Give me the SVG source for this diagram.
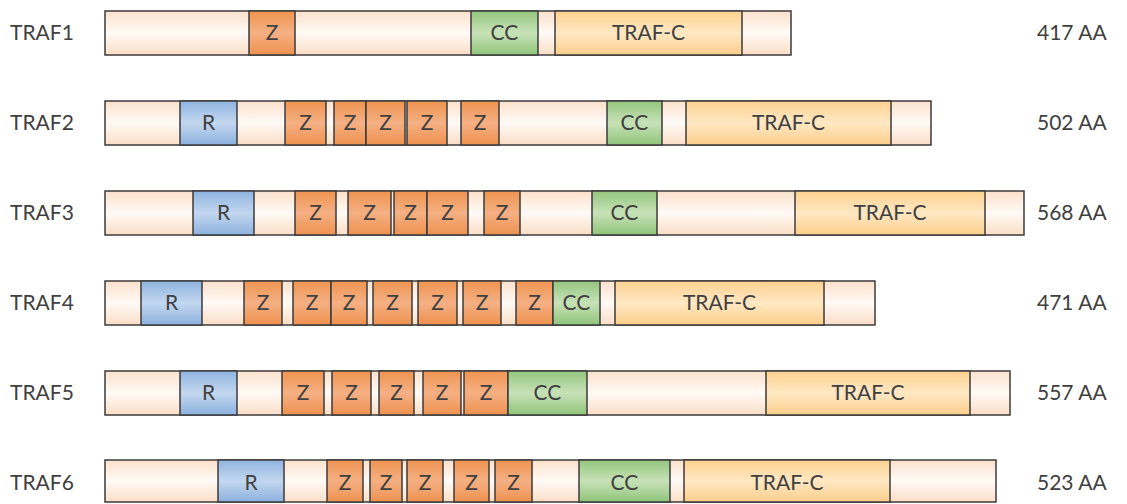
<svg xmlns="http://www.w3.org/2000/svg" width="1127" height="504" viewBox="0 0 1127 504">
  <defs>
    <linearGradient id="gBase" x1="0" y1="0" x2="0" y2="1">
      <stop offset="0" stop-color="#fce1cc"/>
      <stop offset="0.5" stop-color="#fffaf6"/>
      <stop offset="1" stop-color="#fbdec7"/>
    </linearGradient>
    <linearGradient id="gZinc" x1="0" y1="0" x2="0" y2="1">
      <stop offset="0" stop-color="#ef9450"/>
      <stop offset="0.5" stop-color="#f5b084"/>
      <stop offset="1" stop-color="#ee914e"/>
    </linearGradient>
    <linearGradient id="gRing" x1="0" y1="0" x2="0" y2="1">
      <stop offset="0" stop-color="#8fb4e0"/>
      <stop offset="0.5" stop-color="#c3d7ef"/>
      <stop offset="1" stop-color="#8cb1de"/>
    </linearGradient>
    <linearGradient id="gCoil" x1="0" y1="0" x2="0" y2="1">
      <stop offset="0" stop-color="#93c67d"/>
      <stop offset="0.5" stop-color="#c8e2b8"/>
      <stop offset="1" stop-color="#8fc479"/>
    </linearGradient>
    <linearGradient id="gTrafC" x1="0" y1="0" x2="0" y2="1">
      <stop offset="0" stop-color="#fdd18f"/>
      <stop offset="0.5" stop-color="#ffe8c4"/>
      <stop offset="1" stop-color="#fcce8a"/>
    </linearGradient>
  </defs>
  <style>
    .base, .z, .r, .cc, .tc { stroke: #3b3b3b; stroke-width: 1.5; }
    .base { fill: url(#gBase); }
    .z { fill: url(#gZinc); }
    .r { fill: url(#gRing); }
    .cc { fill: url(#gCoil); }
    .tc { fill: url(#gTrafC); }
    text { font-family: Lato, "Liberation Sans", sans-serif; font-size: 21px; fill: #404040; }
    .mid { text-anchor: middle; }
  </style>
  <rect width="1127" height="504" fill="#ffffff"/>

  <!-- TRAF1 -->
  <g id="traf1">
    <text x="10" y="40">TRAF1</text>
    <rect class="base" x="105" y="11" width="686" height="44"/>
    <rect class="z" x="249" y="11" width="46" height="44"/>
    <rect class="cc" x="471" y="11" width="67" height="44"/>
    <rect class="tc" x="555" y="11" width="187" height="44"/>
    <text class="mid" x="272" y="40">Z</text>
    <text class="mid" x="504.5" y="40">CC</text>
    <text class="mid" x="648.5" y="40">TRAF-C</text>
    <text x="1037" y="40">417 AA</text>
  </g>

  <!-- TRAF2 -->
  <g id="traf2">
    <text x="10" y="130">TRAF2</text>
    <rect class="base" x="105" y="101" width="826" height="44"/>
    <rect class="r" x="180" y="101" width="57" height="44"/>
    <rect class="z" x="285" y="101" width="41" height="44"/>
    <rect class="z" x="334" y="101" width="32" height="44"/>
    <rect class="z" x="366" y="101" width="39" height="44"/>
    <rect class="z" x="407" y="101" width="40" height="44"/>
    <rect class="z" x="461" y="101" width="38" height="44"/>
    <rect class="cc" x="607" y="101" width="55" height="44"/>
    <rect class="tc" x="686" y="101" width="205" height="44"/>
    <text class="mid" x="208.5" y="130">R</text>
    <text class="mid" x="305.5" y="130">Z</text>
    <text class="mid" x="350" y="130">Z</text>
    <text class="mid" x="385.5" y="130">Z</text>
    <text class="mid" x="427" y="130">Z</text>
    <text class="mid" x="480" y="130">Z</text>
    <text class="mid" x="634.5" y="130">CC</text>
    <text class="mid" x="788.5" y="130">TRAF-C</text>
    <text x="1037" y="130">502 AA</text>
  </g>

  <!-- TRAF3 -->
  <g id="traf3">
    <text x="10" y="220">TRAF3</text>
    <rect class="base" x="105" y="191" width="919" height="44"/>
    <rect class="r" x="193" y="191" width="61" height="44"/>
    <rect class="z" x="295" y="191" width="41" height="44"/>
    <rect class="z" x="348" y="191" width="43" height="44"/>
    <rect class="z" x="394" y="191" width="33" height="44"/>
    <rect class="z" x="427" y="191" width="41" height="44"/>
    <rect class="z" x="484" y="191" width="36" height="44"/>
    <rect class="cc" x="592" y="191" width="65" height="44"/>
    <rect class="tc" x="795" y="191" width="190" height="44"/>
    <text class="mid" x="223.5" y="220">R</text>
    <text class="mid" x="315.5" y="220">Z</text>
    <text class="mid" x="369.5" y="220">Z</text>
    <text class="mid" x="410.5" y="220">Z</text>
    <text class="mid" x="447.5" y="220">Z</text>
    <text class="mid" x="502" y="220">Z</text>
    <text class="mid" x="624.5" y="220">CC</text>
    <text class="mid" x="890" y="220">TRAF-C</text>
    <text x="1037" y="220">568 AA</text>
  </g>

  <!-- TRAF4 -->
  <g id="traf4">
    <text x="10" y="310">TRAF4</text>
    <rect class="base" x="105" y="281" width="770" height="44"/>
    <rect class="r" x="141" y="281" width="61" height="44"/>
    <rect class="z" x="244" y="281" width="38" height="44"/>
    <rect class="z" x="293" y="281" width="38" height="44"/>
    <rect class="z" x="331" y="281" width="36" height="44"/>
    <rect class="z" x="373" y="281" width="39" height="44"/>
    <rect class="z" x="418" y="281" width="39" height="44"/>
    <rect class="z" x="463" y="281" width="38" height="44"/>
    <rect class="z" x="516" y="281" width="37" height="44"/>
    <rect class="cc" x="553" y="281" width="47" height="44"/>
    <rect class="tc" x="615" y="281" width="209" height="44"/>
    <text class="mid" x="171.5" y="310">R</text>
    <text class="mid" x="263" y="310">Z</text>
    <text class="mid" x="312" y="310">Z</text>
    <text class="mid" x="349" y="310">Z</text>
    <text class="mid" x="392.5" y="310">Z</text>
    <text class="mid" x="437.5" y="310">Z</text>
    <text class="mid" x="482" y="310">Z</text>
    <text class="mid" x="534.5" y="310">Z</text>
    <text class="mid" x="576.5" y="310">CC</text>
    <text class="mid" x="719.5" y="310">TRAF-C</text>
    <text x="1037" y="310">471 AA</text>
  </g>

  <!-- TRAF5 -->
  <g id="traf5">
    <text x="10" y="400">TRAF5</text>
    <rect class="base" x="105" y="371" width="905" height="44"/>
    <rect class="r" x="180" y="371" width="57" height="44"/>
    <rect class="z" x="282" y="371" width="42" height="44"/>
    <rect class="z" x="332" y="371" width="39" height="44"/>
    <rect class="z" x="379" y="371" width="35" height="44"/>
    <rect class="z" x="423" y="371" width="38" height="44"/>
    <rect class="z" x="464" y="371" width="44" height="44"/>
    <rect class="cc" x="508" y="371" width="79" height="44"/>
    <rect class="tc" x="766" y="371" width="204" height="44"/>
    <text class="mid" x="208.5" y="400">R</text>
    <text class="mid" x="303" y="400">Z</text>
    <text class="mid" x="351.5" y="400">Z</text>
    <text class="mid" x="396.5" y="400">Z</text>
    <text class="mid" x="442" y="400">Z</text>
    <text class="mid" x="486" y="400">Z</text>
    <text class="mid" x="547.5" y="400">CC</text>
    <text class="mid" x="868" y="400">TRAF-C</text>
    <text x="1037" y="400">557 AA</text>
  </g>

  <!-- TRAF6 -->
  <g id="traf6">
    <text x="10" y="490">TRAF6</text>
    <rect class="base" x="105" y="460" width="891" height="42"/>
    <rect class="r" x="218" y="460" width="66" height="42"/>
    <rect class="z" x="327" y="460" width="36" height="42"/>
    <rect class="z" x="370" y="460" width="32" height="42"/>
    <rect class="z" x="407" y="460" width="36" height="42"/>
    <rect class="z" x="454" y="460" width="35" height="42"/>
    <rect class="z" x="495" y="460" width="37" height="42"/>
    <rect class="cc" x="579" y="460" width="91" height="42"/>
    <rect class="tc" x="684" y="460" width="206" height="42"/>
    <text class="mid" x="251" y="490">R</text>
    <text class="mid" x="345" y="490">Z</text>
    <text class="mid" x="386" y="490">Z</text>
    <text class="mid" x="425" y="490">Z</text>
    <text class="mid" x="471.5" y="490">Z</text>
    <text class="mid" x="513.5" y="490">Z</text>
    <text class="mid" x="624.5" y="490">CC</text>
    <text class="mid" x="787" y="490">TRAF-C</text>
    <text x="1037" y="490">523 AA</text>
  </g>

  <!-- no connectors in this figure -->
  <g id="connectors"/>
</svg>
